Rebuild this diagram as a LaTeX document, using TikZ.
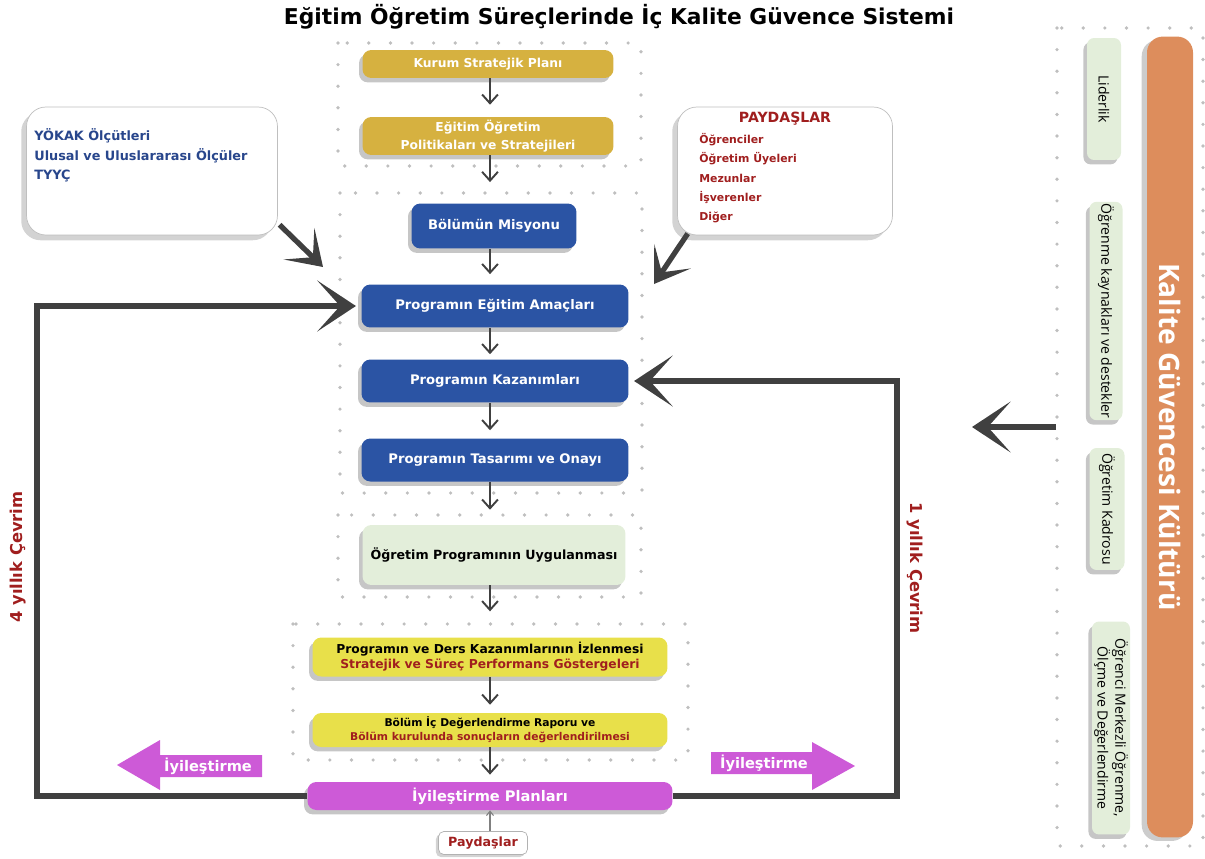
\documentclass[tikz,border=0pt]{standalone}
\usepackage{fontspec}
\setmainfont{DejaVu Sans}
\newfontfamily\osans{Open Sans}
\usepackage{tikz}
\usetikzlibrary{arrows.meta,shadows}
\usepackage{xcolor}
\definecolor{altin}{RGB}{214,177,64}
\definecolor{mavi}{RGB}{43,84,164}
\definecolor{sari}{RGB}{232,224,74}
\definecolor{mor}{RGB}{205,90,215}
\definecolor{turuncu}{RGB}{221,141,92}
\definecolor{acikyesil}{RGB}{227,238,218}
\definecolor{koyukirmizi}{RGB}{160,30,30}
\definecolor{lacivert}{RGB}{40,70,140}
\definecolor{koyugri}{RGB}{64,64,64}

\begin{document}
\begin{tikzpicture}[x=0.02cm,y=-0.02cm,
  box/.style={rounded corners=5pt,text=white,align=center,inner sep=0pt,
    font=\bfseries\fontsize{7.5}{9}\selectfont,
    drop shadow={shadow xshift=-2pt,shadow yshift=-2.5pt,opacity=.45}},
  altinbox/.style={box,fill=altin,minimum width=5.02cm,font=\bfseries\fontsize{7}{10}\selectfont},
  mavibox/.style={box,fill=mavi,minimum width=5.34cm,minimum height=0.86cm},
  saribox/.style={box,fill=sari,text=black,minimum width=7.1cm},
  card/.style={draw=gray!50,fill=white,rounded corners=11pt,
    drop shadow={shadow xshift=-3pt,shadow yshift=-3pt,opacity=.35}},
  sidebox/.style={rotate=-90,fill=acikyesil,rounded corners=4pt,align=center,inner sep=1pt,
    font=\osans\fontsize{8}{9}\selectfont,
    drop shadow={shadow xshift=-2pt,shadow yshift=-2.5pt,opacity=.45}},
  frame/.style={draw=gray!50,line width=2.1pt,line cap=round,dash pattern=on 0pt off 12.3pt},
  arr/.style={draw=koyugri,line width=1.1pt,-{Straight Barb[length=5pt,width=9pt]}},
  bigarr/.style={draw=koyugri,line width=3pt,-{Stealth[length=22pt,width=29pt,inset=13pt]}},
  diagarr/.style={draw=koyugri,line width=3pt,-{Stealth[length=19pt,width=25pt,inset=11pt]}},
  looplbl/.style={text=koyukirmizi,font=\bfseries\fontsize{9.3}{11}\selectfont},
  iyi/.style={text=white,inner sep=0pt,font=\bfseries\fontsize{8.3}{10}\selectfont}]
\useasboundingbox (0,0) rectangle (1205,859);

\node[font=\bfseries\fontsize{12.4}{14}\selectfont] (title) at (619,17) {Eğitim Öğretim Süreçlerinde İç Kalite Güvence Sistemi};

% dotted frames
\draw[frame] (338,43) rectangle (641,166);
\draw[frame] (340,193) rectangle (642,493);
\draw[frame] (338,515) rectangle (641,597);
\draw[frame] (293,624) rectangle (688,760);
\draw[frame] (1057,28) rectangle (1203,846);

% loops
\coordinate (c4) at (37,0);
\coordinate (c1) at (897,0);
\coordinate (mid) at (490,0);

% center column
\node[altinbox,minimum height=0.56cm] (plan) at (488,64) {Kurum Stratejik Planı};
\node[altinbox,minimum height=0.76cm] (pol) at (488,136) {Eğitim Öğretim\\Politikaları ve Stratejileri};
\node[mavibox,minimum width=3.3cm,minimum height=0.9cm] (misyon) at (494,226) {Bölümün Misyonu};
\node[mavibox] (amac) at (495,306) {Programın Eğitim Amaçları};
\node[mavibox] (kazanim) at (495,381) {Programın Kazanımları};
\node[mavibox] (tasarim) at (495,460) {Programın Tasarımı ve Onayı};
\node[box,fill=acikyesil,text=black,minimum width=5.26cm,minimum height=1.2cm,
  font=\bfseries\fontsize{7.2}{9}\selectfont] (uygulama) at (494,555) {Öğretim Programının Uygulanması};
\node[saribox,minimum height=0.78cm,font=\bfseries\fontsize{7}{8.5}\selectfont] (izleme) at (490,657)
  {Programın ve Ders Kazanımlarının İzlenmesi\\\textcolor{koyukirmizi}{Stratejik ve Süreç Performans Göstergeleri}};
\node[saribox,minimum height=0.68cm,font=\bfseries\fontsize{6.1}{8}\selectfont] (rapor) at (490,730)
  {Bölüm İç Değerlendirme Raporu ve\\\textcolor{koyukirmizi}{Bölüm kurulunda sonuçların değerlendirilmesi}};
\node[box,fill=mor,minimum width=7.3cm,minimum height=0.56cm,
  font=\bfseries\fontsize{8.3}{10}\selectfont] (plani) at (490,796) {İyileştirme Planları};
\node[draw=gray!60,fill=white,rounded corners=3pt,text=koyukirmizi,inner sep=0pt,
  minimum width=1.78cm,minimum height=0.46cm,font=\bfseries\fontsize{7.2}{9}\selectfont,
  drop shadow={shadow xshift=-1.5pt,shadow yshift=-1.5pt,opacity=.35}] (paydas2) at (483,843) {Paydaşlar};

\foreach \a/\b/\s in {plan/pol/6.8pt, pol/misyon/12pt, misyon/amac/5.7pt, amac/kazanim/2.8pt,
  kazanim/tasarim/4.5pt, tasarim/uygulama/8.5pt, uygulama/izleme/14.7pt, izleme/rapor/4.5pt, rapor/plani/4pt}
  \draw[arr,shorten >=\s] (\a.south -| mid) -- (\b.north -| mid);
\draw[draw=gray,line width=0.6pt,-{Straight Barb[length=2.5pt,width=4pt]}] (paydas2.north -| mid) -- (plani.south -| mid);

% side cards
\node[card,minimum width=5.02cm,minimum height=2.56cm] (olcut) at (152,171) {};
\node[anchor=north west,inner sep=0pt,align=left,text=lacivert,
  font=\bfseries\fontsize{7.3}{11.3}\selectfont] (olcutyazi) at (34,128)
  {YÖKAK Ölçütleri\\Ulusal ve Uluslararası Ölçüler\\TYYÇ};
\node[card,minimum width=4.3cm,minimum height=2.56cm] (paydas) at (785,171) {};
\node[text=koyukirmizi,font=\bfseries\fontsize{8}{9}\selectfont] (paytitle) at (785,119) {PAYDAŞLAR};
\node[anchor=north west,inner sep=0pt,align=left,text=koyukirmizi,
  font=\bfseries\fontsize{6.2}{11}\selectfont] (payliste) at (699,133)
  {Öğrenciler\\Öğretim Üyeleri\\Mezunlar\\İşverenler\\Diğer};

% big arrows
\coordinate (in1) at (323,267);
\coordinate (in2) at (654,284);
\draw[diagarr] ([xshift=1pt,yshift=6pt]olcut.south east) -- (in1);
\draw[diagarr] ([xshift=6pt,yshift=1pt]paydas.south west) -- (in2);
\draw[bigarr,shorten >=3pt] (plani.west) -- (plani.west -| c4) -- (amac.west -| c4) -- (amac.west);
\draw[bigarr,shorten >=3pt] (plani.east) -- (plani.east -| c1) -- (kazanim.east -| c1) -- (kazanim.east);
\coordinate (rk) at (1056,427);
\coordinate (ka) at (972,427);
\draw[bigarr] (rk) -- (ka);

\node[looplbl,rotate=90] (dort) at (18,557) {4 yıllık Çevrim};
\node[looplbl,rotate=-90] (bir) at (915,568) {1 yıllık Çevrim};

% improvement arrows
\fill[mor] (262,755) -- (160,755) -- (160,740) -- (117,765) -- (160,790) -- (160,777) -- (262,777) -- cycle;
\node[iyi] (iyiL) at (208,766) {İyileştirme};
\fill[mor] (711,752) -- (812,752) -- (812,742) -- (855,766) -- (812,790) -- (812,774) -- (711,774) -- cycle;
\node[iyi] (iyiR) at (764,763) {İyileştirme};

% quality culture column
\node[rotate=-90,fill=turuncu,rounded corners=9pt,text=white,inner sep=0pt,
  minimum width=16.02cm,minimum height=0.92cm,font=\osans\bfseries\fontsize{16}{18}\selectfont,
  drop shadow={shadow xshift=-3pt,shadow yshift=-2pt,opacity=.4}] (kultur) at (1170,437) {Kalite Güvencesi Kültürü};
\node[sidebox,minimum width=2.44cm,minimum height=0.68cm] (lider) at (1104,99) {Liderlik};
\node[sidebox,minimum width=4.34cm,minimum height=0.66cm] (kaynak) at (1106,311) {Öğrenme kaynakları ve destekler};
\node[sidebox,minimum width=2.44cm,minimum height=0.7cm] (kadro) at (1107,509) {Öğretim Kadrosu};
\node[sidebox,minimum width=4.26cm,minimum height=0.76cm] (merkez) at (1111,728) {Öğrenci Merkezli Öğrenme,\\Ölçme ve Değerlendirme};
\end{tikzpicture}
\end{document}
